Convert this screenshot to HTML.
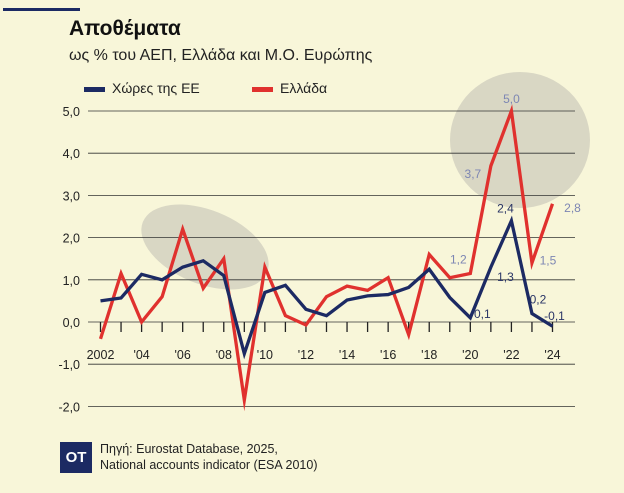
<!DOCTYPE html>
<html><head><meta charset="utf-8">
<style>
body{margin:0;background:#f8f6d9;font-family:"Liberation Sans","DejaVu Sans",sans-serif;}
#wrap{position:relative;width:624px;height:493px;overflow:hidden;background:#f8f6d9;}
.t{position:absolute;color:#222;white-space:nowrap;}
</style></head><body>
<div id="wrap">
<div style="position:absolute;left:3px;top:8px;width:77px;height:3px;background:#1c2a63"></div>
<div class="t" style="left:69px;top:17px;font-size:21px;font-weight:bold;color:#111">Αποθέματα</div>
<div class="t" style="left:69px;top:47px;font-size:16px;color:#222">ως % του ΑΕΠ, Ελλάδα και Μ.Ο. Ευρώπης</div>
<div>
<div style="position:absolute;left:84px;top:87px;width:21px;height:5px;background:#1c2a63"></div>
<div class="t" style="left:112px;top:80px;font-size:14px">Χώρες της ΕΕ</div>
</div>
<div>
<div style="position:absolute;left:252px;top:87px;width:21px;height:5px;background:#e0312e"></div>
<div class="t" style="left:280px;top:80px;font-size:14px">Ελλάδα</div>
</div>
<svg id="chart" width="624" height="493" style="position:absolute;left:0;top:0"></svg>
<div style="position:absolute;left:60px;top:442px;width:32px;height:31px;background:#1c2a63;color:#fff;font-weight:bold;font-size:15px;line-height:31px;text-align:center">OT</div>
<div class="t" style="left:100px;top:441px;font-size:12.5px;line-height:16px;color:#222">Πηγή: Eurostat Database, 2025,<br>National accounts indicator (ESA 2010)</div>
</div>
<script>
const years=[2002,2003,2004,2005,2006,2007,2008,2009,2010,2011,2012,2013,2014,2015,2016,2017,2018,2019,2020,2021,2022,2023,2024];
const euValues=[0.5,0.57,1.13,1.0,1.3,1.45,1.1,-0.75,0.7,0.87,0.3,0.15,0.52,0.62,0.65,0.82,1.25,0.58,0.1,1.3,2.4,0.2,-0.1];
const grValues=[-0.4,1.15,0.0,0.6,2.2,0.8,1.5,-1.85,1.3,0.15,-0.07,0.6,0.85,0.75,1.05,-0.3,1.6,1.05,1.15,3.7,5.0,1.4,2.8];
const yTicks=[5,4,3,2,1,0,-1,-2];
const yTickLabels=["5,0","4,0","3,0","2,0","1,0","0,0","-1,0","-2,0"];
const xLabelYears=[2002,2004,2006,2008,2010,2012,2014,2016,2018,2020,2022,2024];
const xLabels=["2002","'04","'06","'08","'10","'12","'14","'16","'18","'20","'22","'24"];
const annotations=[
 {year:2020,value:1.2,text:"1,2",dx:-12,dy:-12,c:'#7d86b3'},
 {year:2021,value:3.7,text:"3,7",dx:-18,dy:8,c:'#7d86b3'},
 {year:2022,value:5.0,text:"5,0",dx:0,dy:-12,c:'#7d86b3'},
 {year:2023,value:1.5,text:"1,5",dx:16,dy:2,c:'#7d86b3'},
 {year:2024,value:2.8,text:"2,8",dx:20,dy:4,c:'#7d86b3'},
 {year:2020,value:0.1,text:"0,1",dx:12,dy:-4,c:'#2a3566'},
 {year:2022,value:1.3,text:"1,3",dx:-6,dy:10,c:'#2a3566'},
 {year:2022,value:2.4,text:"2,4",dx:-6,dy:-12,c:'#2a3566'},
 {year:2023,value:0.2,text:"0,2",dx:6,dy:-14,c:'#2a3566'},
 {year:2024,value:-0.1,text:"-0,1",dx:2,dy:-10,c:'#2a3566'}
];
const NS="http://www.w3.org/2000/svg";
const svg=document.getElementById('chart');
const X=y=>100.5+(y-2002)*(552.5-100.5)/22;
const Y=v=>322-v*42.2;
function el(tag,attrs){const e=document.createElementNS(NS,tag);for(const k in attrs)e.setAttribute(k,attrs[k]);svg.appendChild(e);return e;}
let e1=el('ellipse',{cx:520,cy:140,rx:70,ry:68,fill:'#d9d7c4'});


let e2=el('ellipse',{cx:205,cy:247,rx:67,ry:37,fill:'#d9d7c4',transform:'rotate(22 205 247)'});


yTicks.forEach((v,i)=>{
 let g=el('line',{x1:88,x2:575,y1:Y(v),y2:Y(v),stroke:'#333','stroke-width':0.8});
 
 
 let t=el('text',{x:80,y:Y(v)+5,'text-anchor':'end','font-size':12.5,fill:'#222','font-family':'Liberation Sans, sans-serif'});
 t.textContent=yTickLabels[i];
 
 
});
years.forEach(y=>{
 let t=el('line',{x1:X(y),x2:X(y),y1:Y(0),y2:Y(0)+10,stroke:'#222','stroke-width':1.3});
 
 
});
xLabelYears.forEach((y,i)=>{
 let t=el('text',{x:X(y),y:Y(0)+37,'text-anchor':'middle','font-size':12.5,fill:'#222','font-family':'Liberation Sans, sans-serif'});
 t.textContent=xLabels[i];
 
 
});
function line(vals,color,name){
 let p=el('polyline',{points:vals.map((v,i)=>X(years[i])+','+Y(v)).join(' '),fill:'none',stroke:color,'stroke-width':3.3,'stroke-linejoin':'miter','stroke-miterlimit':10});
 
 
}
line(grValues,'#e0312e','series-greece');
line(euValues,'#1c2a63','series-eu');
annotations.forEach(a=>{
 let t=el('text',{x:X(a.year)+a.dx,y:Y(a.value)+a.dy+4,'text-anchor':'middle','font-size':12,fill:a.c,'font-family':'Liberation Sans, sans-serif'});
 t.textContent=a.text;
 
 
});
</script>
</body></html>
